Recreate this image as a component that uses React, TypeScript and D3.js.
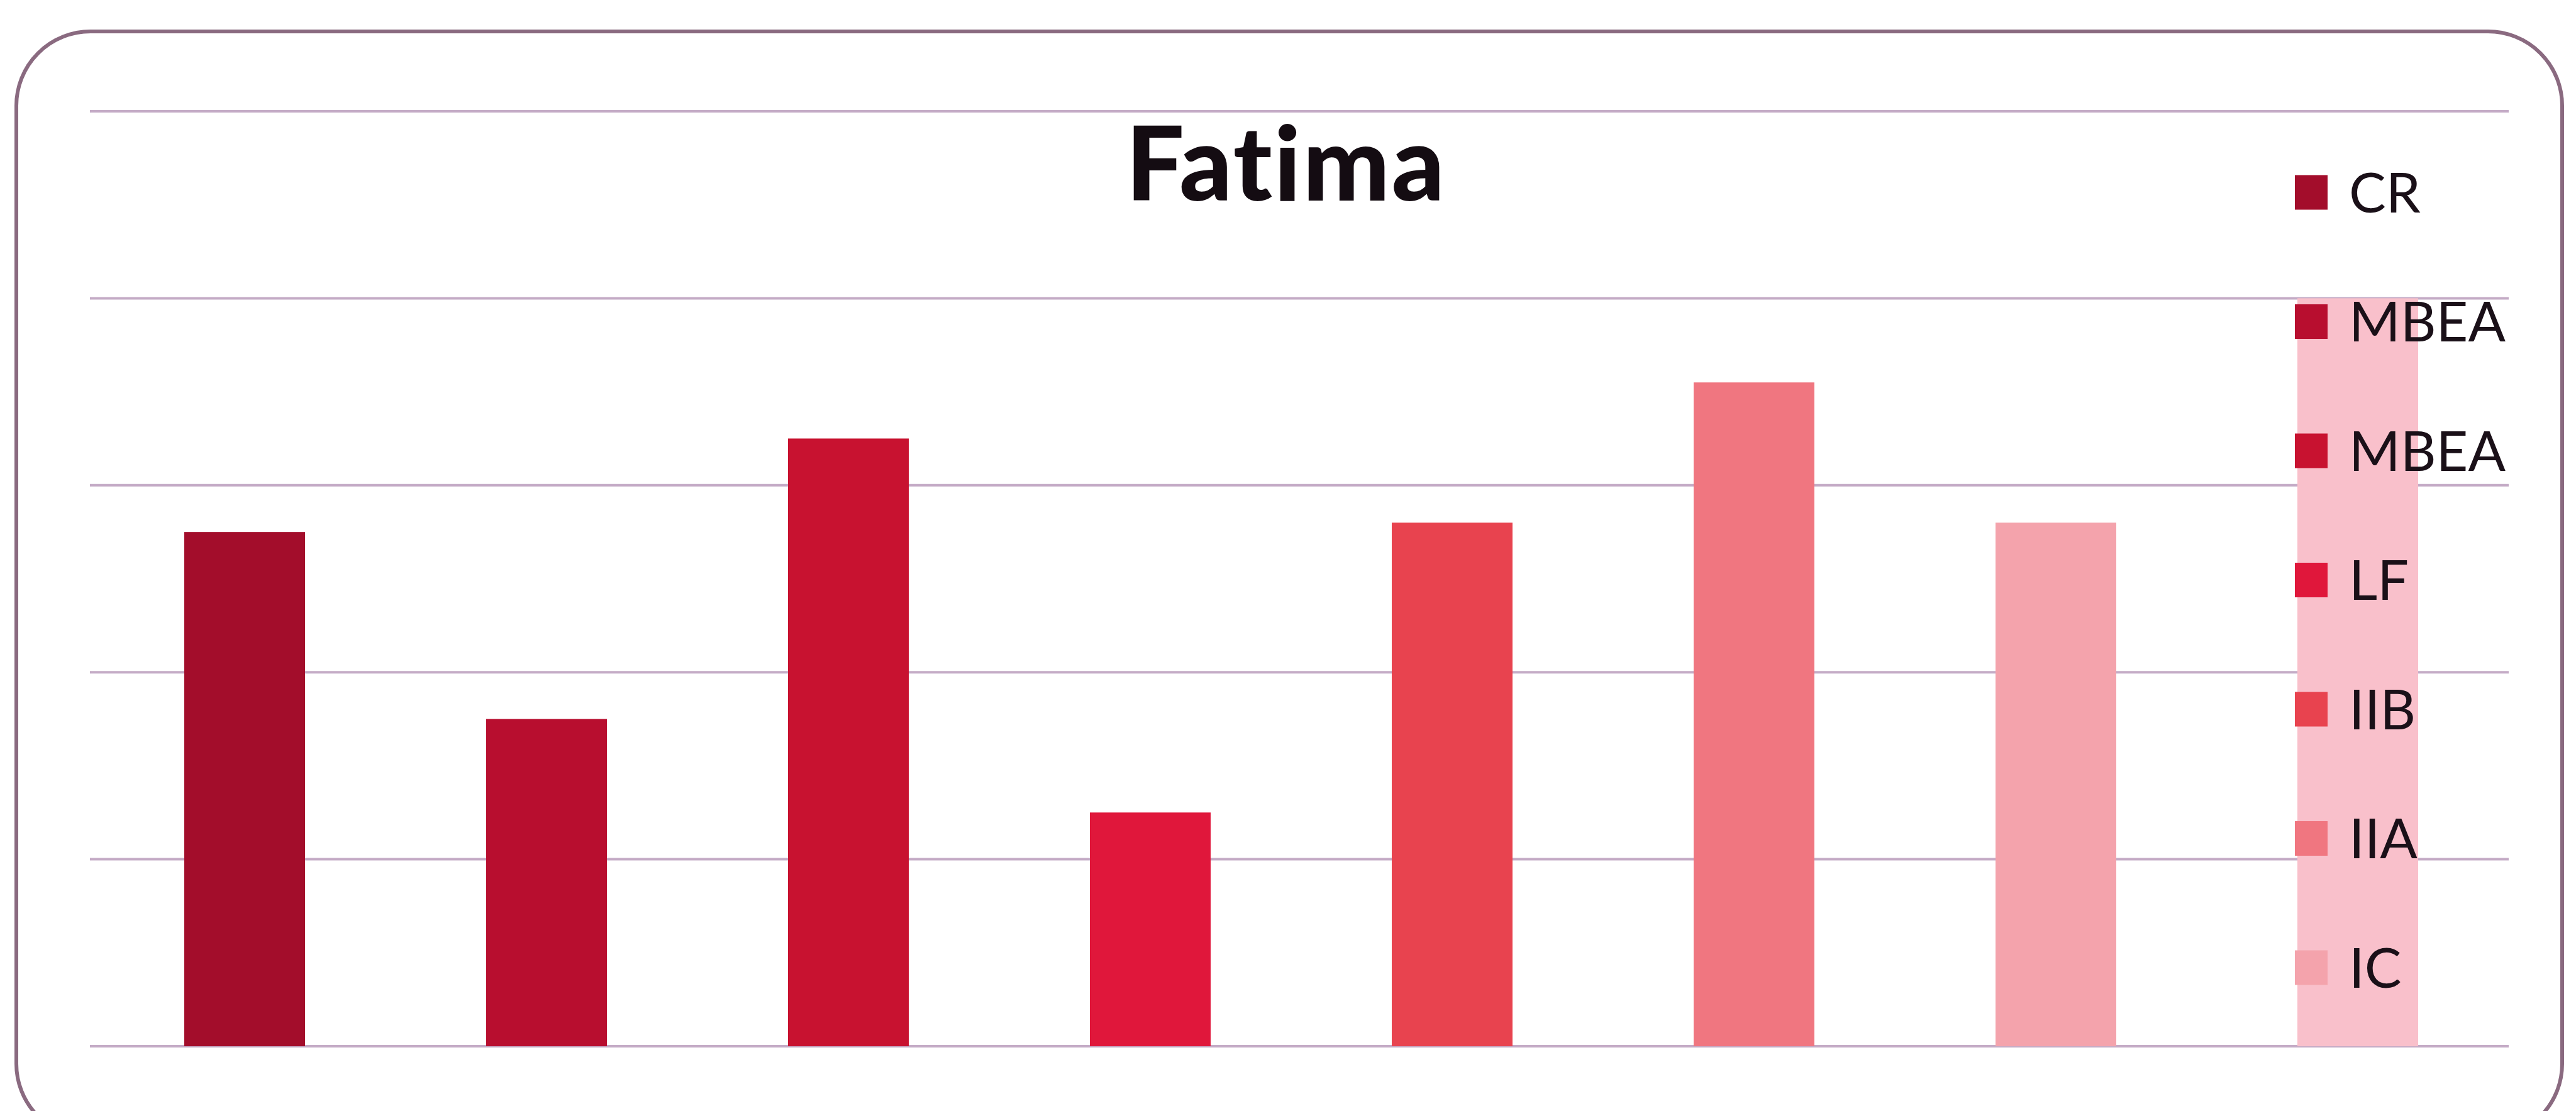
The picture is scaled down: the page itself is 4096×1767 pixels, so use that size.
import React from "react";
import * as d3 from "d3";

// Chart data
const legendLabels = ["CR", "MBEA", "MBEA", "LF", "IIB", "IIA", "IC"];
const barValues = [2.75, 1.75, 3.25, 1.25, 2.8, 3.55, 2.8, 4.0];
const barColors = [
  "#A30D2B",
  "#B80E2F",
  "#C81230",
  "#E0173B",
  "#E8434F",
  "#F07680",
  "#F4A3AC",
  "#F9C0CB",
];
const yTicks = [0, 1, 2, 3, 4, 5];
const title = "Fatima";

const W = 4096;
const H = 1767;

export default function App() {
  const plotLeft = 149;
  const plotRight = 3989;
  const plotTop = 177;
  const plotBottom = 1664;

  const x = d3
    .scaleBand<number>()
    .domain(barValues.map((_, i) => i))
    .range([plotLeft, plotRight])
    .paddingInner(0.6)
    .paddingOuter(0.3);

  const y = d3.scaleLinear().domain([0, 5]).range([plotBottom, plotTop]);

  const legendX = 3649;
  const legendTextX = 3735;
  const legendY0 = 306;
  const legendStep = 205.5;
  const sw = 52;
  const sh = 55;

  return (
    <svg
      width={W}
      height={H}
      viewBox={`0 0 ${W} ${H}`}
      style={{ position: "absolute", left: 0, top: 0, background: "#ffffff" }}
    >
      <rect x={0} y={0} width={W} height={H} fill="#ffffff" />
      {/* chart frame */}
      <rect
        x={26}
        y={50}
        width={4048}
        height={1760}
        rx={118}
        ry={118}
        fill="#ffffff"
        stroke="#8a6a80"
        strokeWidth={6}
      />
      {/* horizontal gridlines */}
      {yTicks.map((t) => (
        <line
          key={t}
          x1={plotLeft - 6}
          x2={plotRight}
          y1={y(t)}
          y2={y(t)}
          stroke="#c4abc6"
          strokeWidth={4}
        />
      ))}
      {/* bars */}
      {barValues.map((v, i) => (
        <rect
          key={i}
          x={x(i)}
          y={y(v)}
          width={x.bandwidth()}
          height={y(0) - y(v)}
          fill={barColors[i]}
        />
      ))}
      {/* title */}
      <text
        x={2045}
        y={319}
        textAnchor="middle"
        fontFamily="Lato, 'Open Sans', sans-serif"
        fontWeight={900}
        fontSize={164}
        letterSpacing={3}
        style={{ fontVariantLigatures: "none" }}
        fill="#140c12"
      >
        {title}
      </text>
      {/* legend */}
      {legendLabels.map((lab, i) => {
        const cy = legendY0 + i * legendStep;
        return (
          <g key={i}>
            <rect
              x={legendX}
              y={cy - sh / 2}
              width={sw}
              height={sh}
              fill={barColors[i]}
            />
            <text
              x={legendTextX}
              y={cy}
              dy="0.36em"
              fontFamily="Lato, 'Open Sans', sans-serif"
              fontSize={88}
              fill="#1a1018"
            >
              {lab}
            </text>
          </g>
        );
      })}
    </svg>
  );
}
